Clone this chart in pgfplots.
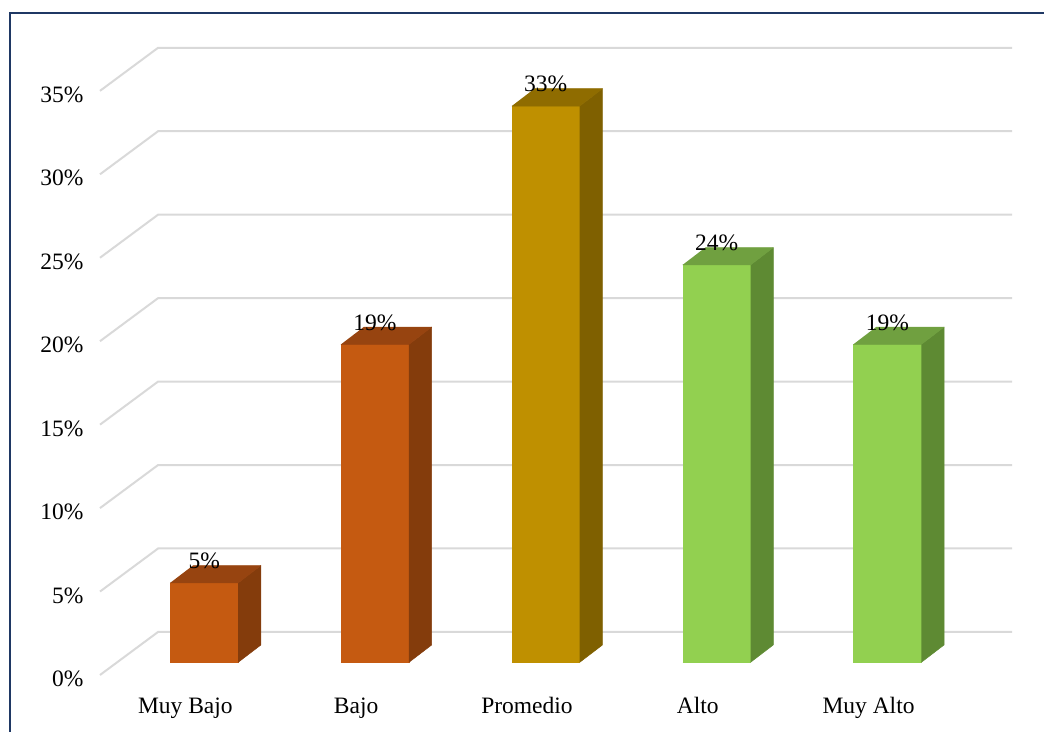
\documentclass[border=0pt]{standalone}
\usepackage{fontspec}
\setmainfont{Liberation Serif}
\usepackage{pgfplots}
\usepackage{pgfplotstable}
\pgfplotsset{compat=1.18}

% face colours: front / top / side
\definecolor{front0}{HTML}{C55A11}\definecolor{top0}{HTML}{974410}\definecolor{side0}{HTML}{843C0C}
\definecolor{front1}{HTML}{C55A11}\definecolor{top1}{HTML}{974410}\definecolor{side1}{HTML}{843C0C}
\definecolor{front2}{HTML}{BF9000}\definecolor{top2}{HTML}{8F6C00}\definecolor{side2}{HTML}{7F6000}
\definecolor{front3}{HTML}{92D050}\definecolor{top3}{HTML}{70A040}\definecolor{side3}{HTML}{5E8A33}
\definecolor{front4}{HTML}{92D050}\definecolor{top4}{HTML}{70A040}\definecolor{side4}{HTML}{5E8A33}
\definecolor{gridgray}{HTML}{D9D9D9}
\definecolor{frame}{HTML}{1F3864}

% share of each level (%)
\pgfplotstableread{
idx v
0 4.76
1 19.05
2 33.33
3 23.81
4 19.05
}\datatable

% unit corners of the three visible faces: u across, d depth, h height
\pgfplotstableread{
u d h
0 0 0
1 0 0
1 0 1
0 0 1
}\frontface
\pgfplotstableread{
u d h
1 0 0
1 1 0
1 1 1
1 0 1
}\sideface
\pgfplotstableread{
u d h
0 0 1
1 0 1
1 1 1
0 1 1
}\topface

% bar geometry in axis units
\def\bx{0.11}     % depth shift of the front face (x)
\def\by{0.76}     % depth shift of the front face (y)
\def\bw{0.398}    % front face width
\def\ddx{0.133}   % bar depth (x)
\def\ddy{1.04}    % bar depth (y)

\begin{document}
\begin{tikzpicture}
\path[use as bounding box] (-100pt,-56pt) rectangle (944pt,675pt);
\begin{axis}[
  at={(0pt,0pt)}, anchor=south west,
  scale only axis, width=912pt, height=627.2pt,
  xmin=-0.5, xmax=4.84, ymin=0, ymax=37.58,
  clip=false,
  axis line style={draw=none},
  major tick length=0pt,
  xtick={0,...,4},
  xticklabels={Muy Bajo,Bajo,Promedio,Alto,Muy Alto},
  ytick={0,5,...,35},
  yticklabel={\pgfmathprintnumber{\tick}\%},
  /pgf/number format/assume math mode=true,
  tick label style={font=\fontsize{23.5}{28}\selectfont},
  yticklabel style={xshift=-13pt, yshift=-4pt},
  xticklabel style={yshift=-19pt},
]
% floor-to-wall grid lines
\pgfplotsinvokeforeach{0,5,...,35}{
  \draw[gridgray, line width=2pt]
    (axis cs:-0.5,#1) -- (axis cs:-0.16,{#1+2.58}) -- (axis cs:4.84,{#1+2.58});
}
% 3-D bars
\pgfplotsinvokeforeach{0,...,4}{
  \pgfplotstablegetelem{#1}{v}\of\datatable
  \let\barval\pgfplotsretval
  \addplot[fill=front#1, draw=front#1, line width=0.5pt, line join=round]
    table[x expr={#1+\bx-\bw/2+\thisrow{u}*\bw+\thisrow{d}*\ddx},
          y expr={\by+\thisrow{h}*\barval+\thisrow{d}*\ddy}] {\frontface};
  \addplot[fill=side#1, draw=side#1, line width=0.5pt, line join=round]
    table[x expr={#1+\bx-\bw/2+\thisrow{u}*\bw+\thisrow{d}*\ddx},
          y expr={\by+\thisrow{h}*\barval+\thisrow{d}*\ddy}] {\sideface};
  \addplot[fill=top#1, draw=top#1, line width=0.5pt, line join=round]
    table[x expr={#1+\bx-\bw/2+\thisrow{u}*\bw+\thisrow{d}*\ddx},
          y expr={\by+\thisrow{h}*\barval+\thisrow{d}*\ddy}] {\topface};
}
% value labels
\addplot[draw=none, mark=none, point meta=explicit,
  nodes near coords={\pgfmathprintnumber[fixed,precision=0]{\pgfplotspointmeta}\%},
  nodes near coords style={anchor=base, inner sep=0pt, yshift=-3pt,
    font=\fontsize{23.5}{28}\selectfont}]
  table[x expr={\thisrow{idx}+\bx}, y expr={\thisrow{v}+\by+\ddy}, meta=v] {\datatable};
\end{axis}
% chart area frame
\draw[frame, line width=2pt] (-90pt,-60pt) -- (-90pt,662pt) -- (950pt,662pt);
\end{tikzpicture}
\end{document}
